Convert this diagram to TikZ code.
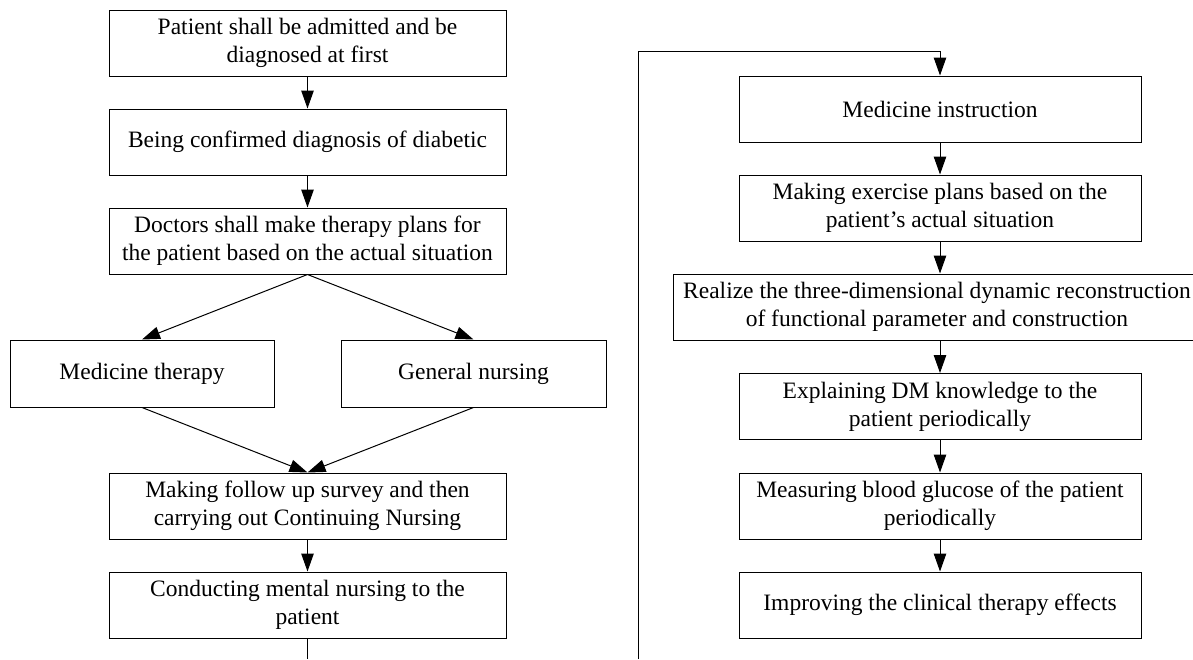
\documentclass[tikz,border=0pt]{standalone}
\usepackage{fontspec}
\setmainfont{Liberation Serif}
\usetikzlibrary{arrows.meta}
\tikzset{
  box/.style={draw, line width=1pt, align=center, inner sep=0pt,
    font=\fontsize{23.5}{28}\selectfont, minimum height=66pt},
  lbox/.style={box, minimum width=397pt},
  rbox/.style={box, minimum width=402pt},
  conn/.style={line width=1pt},
  arr/.style={conn, -{Triangle[length=18pt, width=12.5pt]}}
}
\begin{document}
\begin{tikzpicture}[x=1pt,y=-1pt]
\useasboundingbox (0,0) rectangle (1193,659);
\clip (0,0) rectangle (1193,659);
% left column
\node[lbox] (b1) at (307.5,43) {Patient shall be admitted and be\\diagnosed at first};
\node[lbox] (b2) at (307.5,142) {Being confirmed diagnosis of diabetic};
\node[lbox] (b3) at (307.5,241) {Doctors shall make therapy plans for\\the patient based on the actual situation};
\node[box, minimum width=264pt, minimum height=67pt] (mt) at (142,373.5) {Medicine therapy};
\node[box, minimum width=265pt, minimum height=67pt] (gn) at (473.5,373.5) {General nursing};
\node[lbox] (fu) at (307.5,506) {Making follow up survey and then\\carrying out Continuing Nursing};
\node[lbox] (mn) at (307.5,605) {Conducting mental nursing to the\\patient};
% right column
\node[rbox] (mi) at (940,109) {Medicine instruction};
\node[rbox] (ex) at (940,208) {Making exercise plans based on the\\patient’s actual situation};
\node[box, minimum width=540pt] (rz) at (943,307) {};
\node[font=\fontsize{23.5}{28}\selectfont, align=center, inner sep=0pt] (rzt) at (937,307) {Realize the three-dimensional dynamic reconstruction\\of functional parameter and construction};
\node[rbox] (dm) at (940,406.5) {Explaining DM knowledge to the\\patient periodically};
\node[rbox] (bg) at (940,506) {Measuring blood glucose of the patient\\periodically};
\node[rbox] (ic) at (940,605) {Improving the clinical therapy effects};
% connectors
\draw[arr] (b1) -- (b2);
\draw[arr] (b2) -- (b3);
\draw[arr] (b3.south) -- (mt.north);
\draw[arr] (b3.south) -- (gn.north);
\draw[arr] (mt.south) -- (fu.north);
\draw[arr] (gn.south) -- (fu.north);
\draw[arr] (fu) -- (mn);
\coordinate (lend) at (307.5,659);
\draw[conn] (mn.south) -- (lend);
\coordinate (rstart) at (638,659);
\coordinate (rcorner) at (638,51);
\draw[arr] (rstart) -- (rcorner) -| (mi.north);
\draw[arr] (mi) -- (ex);
\draw[arr] (ex.south) -- (ex.south |- rz.north);
\draw[arr] (dm.north |- rz.south) -- (dm.north);
\draw[arr] (dm) -- (bg);
\draw[arr] (bg) -- (ic);
\end{tikzpicture}
\end{document}
